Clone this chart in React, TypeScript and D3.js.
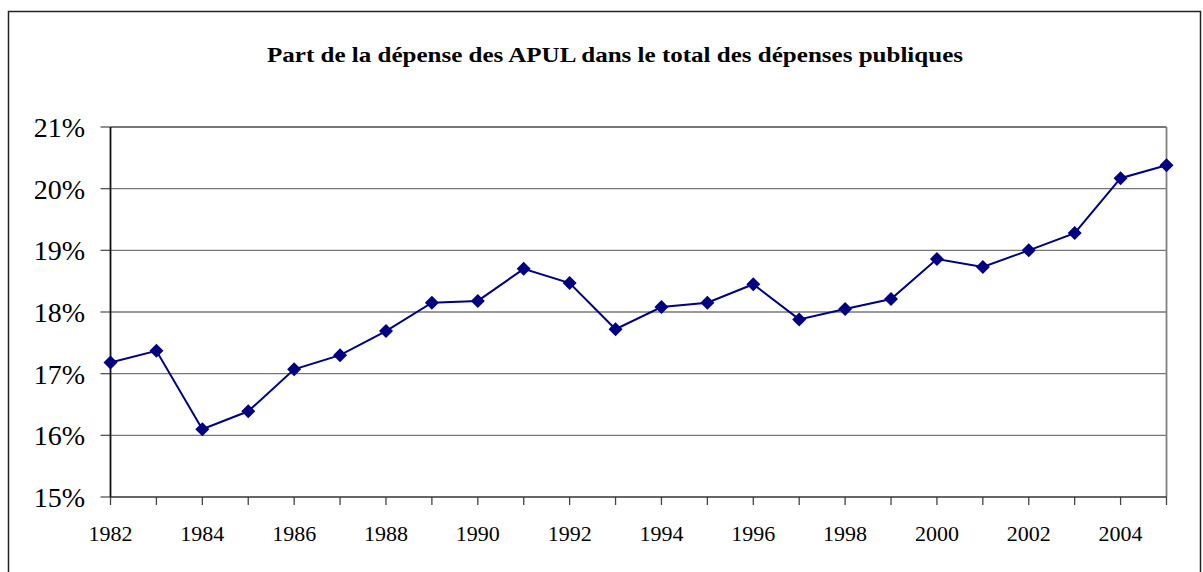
import React from "react";
import * as d3 from "d3";

const years: number[] = [1982,1983,1984,1985,1986,1987,1988,1989,1990,1991,1992,1993,1994,1995,1996,1997,1998,1999,2000,2001,2002,2003,2004,2005];
const shares: number[] = [17.18,17.37,16.10,16.39,17.07,17.30,17.69,18.15,18.18,18.70,18.47,17.72,18.08,18.15,18.45,17.88,18.05,18.21,18.86,18.73,19.0,19.28,20.17,20.38];
const yTicks: number[] = [15,16,17,18,19,20,21];
const xLabelYears: number[] = [1982,1984,1986,1988,1990,1992,1994,1996,1998,2000,2002,2004];
const title = "Part de la dépense des APUL dans le total des dépenses publiques";

export default function App() {
  const W = 1203, H = 572;
  const left = 110.5, right = 1166.5, top = 127, bottom = 497;
  const x = d3.scaleLinear().domain([1982, 2005]).range([left, right]);
  const y = d3.scaleLinear().domain([15, 21]).range([bottom, top]);
  const line = d3.line<number>().x((_, i) => x(years[i])).y(d => y(d));
  const diamond = (cx: number, cy: number, r = 7) =>
    `M${cx},${cy - r}L${cx + r},${cy}L${cx},${cy + r}L${cx - r},${cy}Z`;
  return (
    <svg width={W} height={H} style={{ position: "absolute", left: 0, top: 0 }}>
      <rect x={8.5} y={11.5} width={1192} height={600} fill="white" stroke="#222" strokeWidth={1.5} />
      <text x={615} y={62} textAnchor="middle" fontFamily="'Liberation Serif', 'Times New Roman', serif" fontWeight="bold" fontSize={22} textLength={696} lengthAdjust="spacingAndGlyphs">{title}</text>
      {yTicks.map(t => (
        <g key={t}>
          {t > 15 && <line x1={left} x2={right} y1={y(t)} y2={y(t)} stroke="#777" strokeWidth={t === 21 ? 1.8 : 1.3} />}
          <line x1={left - 10} x2={left} y1={y(t)} y2={y(t)} stroke="#555" strokeWidth={1.3} />
          <text x={85} y={y(t) + 10} textAnchor="end" fontFamily="'Liberation Serif', 'Times New Roman', serif" fontSize={28}>{t}%</text>
        </g>
      ))}
      <line x1={right} x2={right} y1={top} y2={bottom} stroke="#808080" strokeWidth={1.8} />
      {years.map(yr => (
        <line key={yr} x1={x(yr)} x2={x(yr)} y1={bottom} y2={bottom + 8} stroke="#444" strokeWidth={1.3} />
      ))}
      <line x1={left} x2={right} y1={bottom} y2={bottom} stroke="#333" strokeWidth={1.6} />
      <line x1={left} x2={left} y1={top} y2={bottom} stroke="#111" strokeWidth={1.8} />
      {xLabelYears.map(yr => (
        <text key={yr} x={x(yr)} y={541} textAnchor="middle" fontFamily="'Liberation Serif', 'Times New Roman', serif" fontSize={22}>{yr}</text>
      ))}
      <path d={line(shares) || ""} fill="none" stroke="#000080" strokeWidth={2} />
      {shares.map((v, i) => (
        <path key={i} d={diamond(x(years[i]), y(v))} fill="#000080" />
      ))}
    </svg>
  );
}
